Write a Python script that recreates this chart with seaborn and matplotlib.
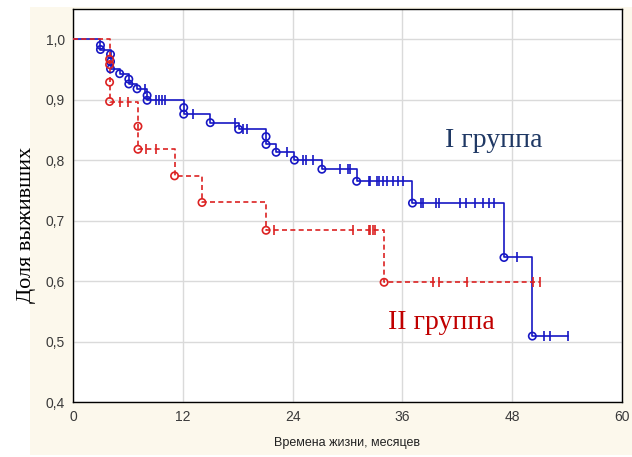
import numpy as np
import pandas as pd
import matplotlib
matplotlib.use("Agg")
import matplotlib.pyplot as plt
from matplotlib.patches import Rectangle
from matplotlib.ticker import FuncFormatter
import seaborn as sns

# ---------------------------------------------------------------------------
# Данные: кривые Каплана-Мейера для двух групп
# ---------------------------------------------------------------------------

# I группа: моменты событий и доля выживших после каждого события
g1_event_t = [3.0, 3.0, 4.1, 4.1, 4.1, 5.1, 6.1, 6.1, 7.0, 8.1, 8.1,
              12.1, 12.1, 15.0, 18.1, 21.1, 21.1, 22.2, 24.2, 27.2,
              31.0, 37.1, 47.1, 50.2]
g1_event_s = [0.990, 0.983, 0.975, 0.963, 0.951, 0.943, 0.934, 0.926, 0.918,
              0.907, 0.899, 0.887, 0.876, 0.862, 0.851, 0.839, 0.826, 0.813,
              0.800, 0.785, 0.765, 0.729, 0.639, 0.509]
g1_censored = [7.9, 9.1, 9.4, 9.7, 10.0, 13.1, 17.7, 18.6, 19.0, 23.4,
               25.1, 25.5, 26.2, 29.2, 30.1, 30.3, 32.3, 32.5, 33.2, 33.4,
               33.9, 34.3, 35.0, 35.5, 36.1, 38.0, 38.2, 39.7, 40.0, 42.3,
               43.0, 43.9, 44.8, 45.5, 46.0, 48.5, 51.5, 52.1, 54.1]

# II группа
g2_event_t = [4.0, 4.0, 4.0, 4.0, 7.1, 7.1, 11.1, 14.1, 21.1, 34.0]
g2_event_s = [0.967, 0.958, 0.929, 0.897, 0.856, 0.818, 0.774, 0.730,
              0.684, 0.598]
g2_censored = [5.1, 6.0, 8.0, 9.1, 22.0, 30.6, 32.3, 32.5, 32.75, 33.0,
               39.3, 40.0, 43.1, 50.3, 51.0]

x_ticks = [0, 12, 24, 36, 48, 60]
y_ticks = [0.4, 0.5, 0.6, 0.7, 0.8, 0.9, 1.0]

BLUE = "#1717c4"
RED = "#dc2222"


def step_curve(ev_t, ev_s, cens):
    """Точки ступенчатой кривой + координаты цензурированных наблюдений."""
    t_end = max(max(ev_t), max(cens))
    xs = [0.0] + list(ev_t) + [t_end]
    ys = [1.0] + list(ev_s) + [ev_s[-1]]
    ev_t = np.asarray(ev_t)
    ev_s = np.asarray(ev_s)
    cs = []
    for c in cens:
        prior = ev_s[ev_t <= c]
        cs.append(prior[-1] if len(prior) else 1.0)
    return (pd.DataFrame({"t": xs, "s": ys}),
            pd.DataFrame({"t": ev_t, "s": ev_s}),
            pd.DataFrame({"t": cens, "s": cs}))


sns.set_theme(style="whitegrid")
plt.rcParams["font.family"] = ["Liberation Sans", "DejaVu Sans"]

fig = plt.figure(figsize=(6.32, 4.57), dpi=100, facecolor="white")
fig.patches.append(Rectangle((30 / 632, 2 / 457), 602 / 632, 448 / 457,
                             transform=fig.transFigure, facecolor="#fcf8ec",
                             edgecolor="none", zorder=-10))
ax = fig.add_axes([73 / 632, 1 - 402 / 457, 549 / 632, 393 / 457])
ax.set_facecolor("white")

for ev_t, ev_s, cens, color, ls in [
    (g1_event_t, g1_event_s, g1_censored, BLUE, "-"),
    (g2_event_t, g2_event_s, g2_censored, RED, (0, (3, 2))),
]:
    curve, events, censored = step_curve(ev_t, ev_s, cens)
    sns.lineplot(data=curve, x="t", y="s", estimator=None, sort=False,
                 drawstyle="steps-post", color=color, linestyle=ls,
                 linewidth=1.2, ax=ax, zorder=3)
    sns.scatterplot(data=events, x="t", y="s", marker="o", s=28,
                    facecolors="none", edgecolor=color, linewidth=1.2,
                    ax=ax, zorder=4)
    sns.scatterplot(data=censored, x="t", y="s", marker="|", s=55,
                    color=color, linewidth=1.2, ax=ax, zorder=4)

ax.set_xlim(0, 60)
ax.set_ylim(0.4, 1.05)
ax.set_xticks(x_ticks)
ax.set_yticks(y_ticks)
ax.yaxis.set_major_formatter(FuncFormatter(lambda v, _: f"{v:.1f}".replace(".", ",")))
ax.grid(True, color="#dadada", linewidth=1.0)
for sp in ax.spines.values():
    sp.set_color("black")
    sp.set_linewidth(1.0)
ax.tick_params(axis="both", labelsize=10, labelcolor="#3a3a3a",
               length=3, color="black", direction="out", pad=3)
ax.set_xlabel("Времена жизни, месяцев", fontsize=9, color="#222222", labelpad=9)
ax.set_ylabel("")

fig.text(27 / 632, 1 - 225 / 457, "Доля выживших", rotation=90,
         ha="center", va="center", fontsize=16,
         family=["Liberation Serif", "DejaVu Serif"], color="black")

ax.text(40.7, 0.833, "I группа", fontsize=20, color="#1f3864",
        family=["Liberation Serif", "DejaVu Serif"], ha="left", va="center")
ax.text(34.4, 0.532, "II группа", fontsize=20, color="#c00000",
        family=["Liberation Serif", "DejaVu Serif"], ha="left", va="center")

fig.savefig("out.png", dpi=100)
